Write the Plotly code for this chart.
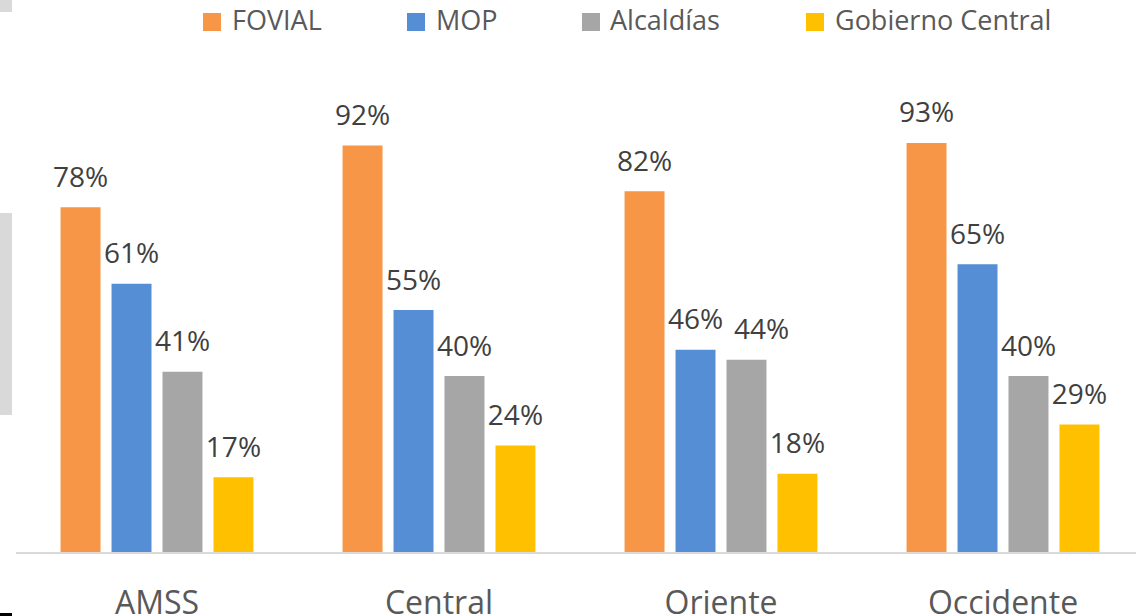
import plotly.graph_objects as go

# ---- data ----
regions = ["AMSS", "Central", "Oriente", "Occidente"]
series_names = ["FOVIAL", "MOP", "Alcaldías", "Gobierno Central"]
fovial = [78.4, 92.4, 82.0, 93.0]
mop = [61.0, 55.0, 46.0, 65.4]
alcaldias = [41.0, 40.0, 43.7, 40.0]
gobierno = [17.0, 24.2, 17.8, 29.0]
colors = ["#F79646", "#558ED5", "#A6A6A6", "#FFC000"]

values = [fovial, mop, alcaldias, gobierno]

# ---- layout geometry (pixels) ----
W_PX, H_PX = 1136, 616
ML, MR, MT, MB = 16, 0, 70, 64
PW = W_PX - ML - MR
PH = H_PX - MT - MB
PX_PER_UNIT = 4.398
CAT_PX = 282
BARGAP = 0.277
BARGROUPGAP = 0.216
FONT = "Open Sans"
LABEL_FONT = dict(family=FONT, size=28, color="#404040")
# label nudged right (px) in the reference to avoid overlapping its neighbour
label_nudge = {(2, 2): 15}   # (series index, category index): px


def paper_x(px):
    return (px - ML) / PW


def paper_y(py):
    return (H_PX - MB - py) / PH


fig = go.Figure()

for name, vals, col in zip(series_names, values, colors):
    fig.add_trace(go.Bar(
        x=regions, y=vals, name=name,
        marker=dict(color=col, line=dict(width=0)),
        showlegend=False, hoverinfo="skip",
    ))

annotations = []
slot_px = CAT_PX * (1 - BARGAP) / len(series_names)
for si, (name, vals, col) in enumerate(zip(series_names, values, colors)):
    labels = []
    for ci, v in enumerate(vals):
        txt = f"{v:.0f}%"
        if (si, ci) in label_nudge:
            labels.append("")
            annotations.append(dict(
                text=txt, x=regions[ci], y=v, xref="x", yref="y",
                xanchor="center", yanchor="bottom", showarrow=False,
                xshift=(si - (len(series_names) - 1) / 2) * slot_px + label_nudge[(si, ci)],
                yshift=11, font=LABEL_FONT,
            ))
        else:
            labels.append(txt)
    fig.add_trace(go.Scatter(
        x=regions, y=vals, name=name + " label",
        mode="markers+text",
        marker=dict(size=20, opacity=0, color=col),
        text=labels,
        textposition="top center",
        textfont=LABEL_FONT,
        showlegend=False, hoverinfo="skip", cliponaxis=False,
    ))

# ---- manual legend ----
legend_square_left = [203, 407, 582, 806]
legend_text_left = [230, 434, 608, 833]
legend_cy = 22
sq = 18
shapes = []
for name, col, sx, tx in zip(series_names, colors, legend_square_left, legend_text_left):
    shapes.append(dict(
        type="rect", xref="paper", yref="paper",
        x0=paper_x(sx), x1=paper_x(sx + sq),
        y0=paper_y(legend_cy + sq / 2), y1=paper_y(legend_cy - sq / 2),
        fillcolor=col, line=dict(width=0), layer="above",
    ))
    annotations.append(dict(
        text=name, xref="paper", yref="paper",
        x=paper_x(tx), y=paper_y(legend_cy - 2), xanchor="left", yanchor="middle",
        showarrow=False, font=dict(family=FONT, size=27, color="#595959"),
    ))

# edge artefacts visible in the reference picture
for (x0, y0, x1, y1, c) in [(0, 0, 12, 12, "#D9D9D9"), (0, 213, 12, 415, "#D9D9D9"),
                             (0, 613, 12, 616, "#000000")]:
    shapes.append(dict(
        type="rect", xref="paper", yref="paper",
        x0=paper_x(x0), x1=paper_x(x1), y0=paper_y(y1), y1=paper_y(y0),
        fillcolor=c, line=dict(width=0), layer="above",
    ))

fig.update_layout(
    width=W_PX, height=H_PX,
    margin=dict(l=ML, r=MR, t=MT, b=MB, autoexpand=False),
    paper_bgcolor="white", plot_bgcolor="white",
    barmode="group", bargap=BARGAP, bargroupgap=BARGROUPGAP,
    scattermode="group",
    shapes=shapes, annotations=annotations,
    showlegend=False,
    font=dict(family=FONT, color="#595959"),
)
fig.update_xaxes(
    range=[-0.5, -0.5 + PW / CAT_PX],
    showline=True, linecolor="#D9D9D9", linewidth=2,
    showgrid=False, zeroline=False,
    ticks="outside", ticklen=22, tickcolor="rgba(0,0,0,0)",
    tickfont=dict(family=FONT, size=32, color="#595959"),
    automargin=False, fixedrange=True,
)
fig.update_yaxes(
    range=[0, PH / PX_PER_UNIT], visible=False, showgrid=False,
    zeroline=False, fixedrange=True,
)

fig.write_html(
    "out.html",
    config={"displayModeBar": False},
    post_script="document.body.style.margin='0px';document.body.style.overflow='hidden';",
)
